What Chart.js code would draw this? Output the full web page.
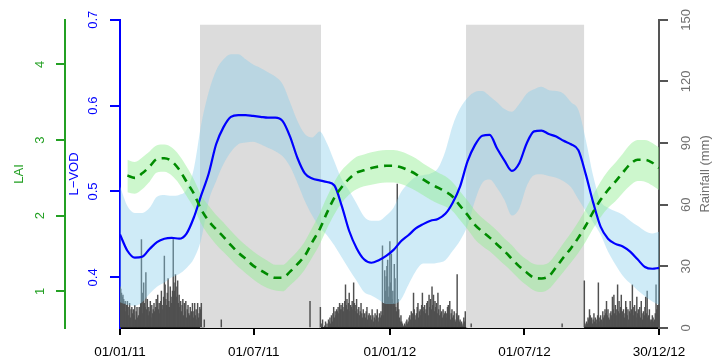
<!DOCTYPE html>
<html><head><meta charset="utf-8">
<script src="https://cdn.jsdelivr.net/npm/chart.js@4.4.1/dist/chart.umd.min.js"></script>
<style>html,body{margin:0;padding:0;background:#fff;}canvas{display:block;}</style>
</head><body>
<canvas id="c" width="718" height="362"></canvas>
<script>
// ---------------- DATA (days counted from 01/01/2011) ----------------
const xTickDays = [0, 181, 365, 547, 729];
const xTickLabels = ["01/01/11", "01/07/11", "01/01/12", "01/07/12", "30/12/12"];
const laiTicks = [1, 2, 3, 4];
const vodTicks = [0.4, 0.5, 0.6, 0.7];
const rainTicks = [0, 30, 60, 90, 120, 150];

// dry seasons (grey shading): [start day, end day]
const drySeasons = [[108, 272], [468, 628]];

// daily rainfall (mm) for the wet spells; first value is on the start day
const rainStart1 = 0;
const rain1 = [20,19,17,15,16,14,12,13,8,11, 13,10,6,12,5,9,10,7,9,6, 11,4,8,10,5,6,10,8,12,43,
  17,7,22,12,10,27,9,14,6,10, 8,13,5,11,7,9,12,8,10,14, 10,16,9,12,7,13,18,11,9,15,
  35,21,14,11,17,24,13,10,20,15, 12,18,43,22,18,26,15,20,23,12, 16,10,13,8,11,14,6,12,8,13,
  5,9,11,7,6,10,4,8,12,5, 8,12,6,9,4,12,5,7,10,9, 12,0,0,0,4];
const rainStart2 = 270;
const rain2 = [0,10,0,2,4,0,0,1,3,0, 2,0,4,3,5,2,6,3,7,10, 5,8,6,9,8,10,7,12,9,11,
  9,12,8,10,13,21,11,14,9,12, 17,8,11,10,13,9,22,12,8,11, 14,7,9,10,6,8,12,7,5,9,
  6,7,5,8,10,4,6,7,5,6, 4,9,6,3,5,7,4,6,9,5, 3,7,5,8,6,40,12,6,28,18,
  25,30,33,15,20,42,22,36,14,18, 12,31,24,10,8,70,14,9,5,3, 6,3,2,1,0,2,1,3,4,2,
  3,5,6,4,8,5,7,17,9,6, 4,7,10,12,5,8,9,6,11,17, 8,10,11,7,9,12,13,6,16,10,
  14,9,20,11,16,8,13,10,12,7, 17,9,6,11,7,8,5,9,6,7, 8,5,7,10,11,6,13,4,7,9,
  5,6,8,4,3,7,26,5,6,3, 4,2,3,1,2,5,3,8,0,0];
const rainStart3 = 628;
const rain3 = [23,2, 1,3,2,5,4,9,6,3,5,2, 4,7,3,5,4,2,6,22,5,3, 6,4,3,8,5,6,9,7,13,6,
  9,5,4,7,8,6,15,9,16,7, 11,6,9,21,8,13,7,10,16,6, 8,9,5,7,13,10,6,9,4,8,
  13,7,9,21,10,6,11,8,5,15, 7,9,6,10,5,13,7,4,8,6, 10,15,7,18,5,6,9,4,3,4,
  6,5,3,4,7,21,9,11,6,18];
// isolated dry-season showers
const rainEventDays = [137, 257, 475, 598];
const rainEventValues = [4, 13, 2, 2];

// L-VOD mean and band
const vodDays = [0,10,20,30,40,50,60,70,80,90,100,110,120,130,140,150,160,170,180,190,
  200,210,220,230,240,250,260,270,280,290,300,310,320,330,340,350,360,370,380,390,
  400,410,420,430,440,450,460,470,480,490,500,510,520,530,540,550,560,570,580,590,
  600,610,620,630,640,650,660,670,680,690,700,710,720,729];
const vodMean = [0.450,0.431,0.423,0.424,0.433,0.441,0.445,0.446,0.445,0.451,
  0.470,0.496,0.521,0.555,0.575,0.587,0.589,0.589,0.588,0.587,
  0.586,0.586,0.582,0.564,0.539,0.521,0.515,0.513,0.511,0.507,
  0.483,0.454,0.434,0.421,0.417,0.420,0.425,0.432,0.442,0.449,
  0.457,0.462,0.466,0.468,0.474,0.487,0.506,0.535,0.554,0.565,
  0.566,0.550,0.536,0.524,0.533,0.556,0.570,0.571,0.567,0.564,
  0.559,0.555,0.548,0.520,0.487,0.459,0.445,0.439,0.436,0.430,
  0.421,0.412,0.410,0.411];
const vodUpper = [0.506,0.483,0.475,0.475,0.481,0.494,0.496,0.495,0.496,0.502,
  0.527,0.579,0.616,0.641,0.654,0.660,0.660,0.654,0.648,0.644,
  0.639,0.634,0.625,0.604,0.582,0.567,0.563,0.570,0.556,0.535,
  0.514,0.501,0.486,0.471,0.466,0.466,0.472,0.481,0.499,0.510,
  0.517,0.519,0.521,0.527,0.547,0.577,0.597,0.609,0.616,0.617,
  0.611,0.604,0.596,0.593,0.602,0.614,0.619,0.622,0.618,0.617,
  0.614,0.604,0.595,0.560,0.518,0.489,0.481,0.477,0.473,0.466,
  0.460,0.454,0.451,0.453];
const vodLower = [0.371,0.368,0.367,0.371,0.381,0.389,0.394,0.400,0.404,0.411,
  0.422,0.445,0.489,0.512,0.532,0.546,0.555,0.557,0.558,0.555,
  0.551,0.547,0.541,0.529,0.510,0.489,0.472,0.458,0.449,0.437,
  0.423,0.409,0.396,0.383,0.379,0.374,0.369,0.369,0.374,0.391,
  0.407,0.416,0.416,0.417,0.420,0.431,0.443,0.460,0.489,0.510,
  0.514,0.504,0.490,0.472,0.480,0.506,0.519,0.520,0.518,0.516,
  0.512,0.505,0.491,0.477,0.464,0.450,0.430,0.415,0.402,0.393,
  0.385,0.378,0.372,0.368];

// LAI mean and band
const laiDays = [10,20,30,40,50,60,70,80,90,100,110,120,130,140,150,160,170,180,190,
  200,210,220,230,240,250,260,270,280,290,300,310,320,330,340,350,360,370,380,390,
  400,410,420,430,440,450,460,470,480,490,500,510,520,530,540,550,560,570,580,590,
  600,610,620,630,640,650,660,670,680,690,700,710,720,729];
const laiMean = [2.53,2.50,2.56,2.65,2.75,2.76,2.72,2.61,2.45,
  2.29,2.08,1.93,1.82,1.72,1.61,1.51,1.43,1.34,1.28,
  1.22,1.18,1.18,1.26,1.36,1.47,1.65,1.82,2.04,2.24,
  2.38,2.49,2.57,2.60,2.63,2.65,2.66,2.66,2.64,2.60,
  2.55,2.48,2.42,2.37,2.32,2.25,2.13,2.01,1.88,1.79,
  1.71,1.62,1.53,1.43,1.33,1.25,1.18,1.17,1.20,1.32,
  1.45,1.57,1.71,1.87,2.05,2.21,2.34,2.45,2.57,2.68,
  2.74,2.74,2.70,2.63];
const laiUpper = [2.74,2.71,2.77,2.85,2.93,2.94,2.90,2.80,2.65,
  2.48,2.27,2.13,2.01,1.91,1.80,1.70,1.61,1.53,1.46,
  1.40,1.35,1.35,1.43,1.53,1.66,1.84,2.03,2.25,2.45,
  2.60,2.70,2.78,2.81,2.84,2.86,2.87,2.87,2.85,2.81,
  2.76,2.69,2.63,2.57,2.52,2.44,2.32,2.20,2.07,1.97,
  1.89,1.80,1.70,1.61,1.50,1.42,1.36,1.35,1.38,1.50,
  1.64,1.77,1.92,2.09,2.28,2.45,2.59,2.70,2.82,2.94,
  3.00,3.00,2.96,2.90];
const laiLower = [2.31,2.29,2.35,2.45,2.57,2.58,2.53,2.42,2.26,
  2.10,1.89,1.74,1.62,1.52,1.42,1.32,1.24,1.16,1.09,
  1.04,1.01,1.00,1.08,1.17,1.29,1.45,1.62,1.83,2.02,
  2.17,2.28,2.35,2.39,2.41,2.43,2.44,2.44,2.42,2.38,
  2.33,2.27,2.21,2.16,2.12,2.06,1.94,1.82,1.69,1.60,
  1.53,1.44,1.35,1.26,1.16,1.08,1.01,0.99,1.03,1.14,
  1.26,1.38,1.51,1.66,1.83,1.98,2.10,2.19,2.30,2.40,
  2.46,2.45,2.40,2.34];

// ---------------- CHART ----------------
const FONT = "'Liberation Sans', Arial, Helvetica, sans-serif";
const GREEN_AX = '#23a023';
const GREEN_LINE = '#008b00';
const BLUE = '#0000ff';
const GREY_AX = '#555555';
const GREY_TXT = '#707070';
const DRY_TOP = 147.6;

const toXY = (days, vals) => days.map((d, i) => ({x: d, y: vals[i]}));
const rainPoints = [];
[[rainStart1, rain1], [rainStart2, rain2], [rainStart3, rain3]].forEach(([s, arr]) =>
  arr.forEach((v, i) => rainPoints.push({x: s + i, y: v})));
rainEventDays.forEach((d, i) => rainPoints.push({x: d, y: rainEventValues[i]}));
rainPoints.sort((a, b) => a.x - b.x);

const noLine = {borderColor: 'rgba(0,0,0,0)', borderWidth: 0, pointRadius: 0, pointHoverRadius: 0};
const datasets = [];
drySeasons.forEach(([s, e]) => datasets.push(Object.assign({
  type: 'line', yAxisID: 'yRain', data: [{x: s, y: DRY_TOP}, {x: e, y: DRY_TOP}],
  fill: 'origin', backgroundColor: 'rgb(220,220,220)', order: 10
}, noLine)));
datasets.push({type: 'bar', yAxisID: 'yRain', data: rainPoints, backgroundColor: 'rgb(80,80,80)',
  borderWidth: 0, barThickness: 0.8, order: 9});
datasets.push(Object.assign({type: 'line', yAxisID: 'yVod', data: toXY(vodDays, vodUpper),
  fill: '+1', backgroundColor: 'rgba(135,206,235,0.40)', cubicInterpolationMode: 'monotone', order: 8}, noLine));
datasets.push(Object.assign({type: 'line', yAxisID: 'yVod', data: toXY(vodDays, vodLower),
  fill: false, cubicInterpolationMode: 'monotone', order: 8}, noLine));
datasets.push(Object.assign({type: 'line', yAxisID: 'yLai', data: toXY(laiDays, laiUpper),
  fill: '+1', backgroundColor: 'rgba(144,238,144,0.45)', cubicInterpolationMode: 'monotone', order: 7}, noLine));
datasets.push(Object.assign({type: 'line', yAxisID: 'yLai', data: toXY(laiDays, laiLower),
  fill: false, cubicInterpolationMode: 'monotone', order: 7}, noLine));
datasets.push({type: 'line', yAxisID: 'yVod', data: toXY(vodDays, vodMean), borderColor: BLUE,
  borderWidth: 2.2, pointRadius: 0, fill: false, cubicInterpolationMode: 'monotone', order: 6});
datasets.push({type: 'line', yAxisID: 'yLai', data: toXY(laiDays, laiMean), borderColor: GREEN_LINE,
  borderWidth: 2.6, borderDash: [8, 6], pointRadius: 0, fill: false, cubicInterpolationMode: 'monotone', order: 5});

const f13 = {family: FONT, size: 13};
const setTicks = vals => s => { s.ticks = vals.map(v => ({value: v})); };

const rainTitle = {
  id: 'rainTitle',
  afterDraw(chart) {
    const s = chart.scales.yRain, ctx = chart.ctx;
    ctx.save();
    ctx.translate(s.right - 13, (s.top + s.bottom) / 2);
    ctx.rotate(-Math.PI / 2);
    ctx.font = '13px ' + FONT;
    ctx.fillStyle = GREY_TXT;
    ctx.textAlign = 'center';
    ctx.textBaseline = 'middle';
    ctx.fillText('Rainfall (mm)', 0, 0);
    ctx.restore();
  }
};

new Chart(document.getElementById('c'), {
  type: 'line',
  data: {datasets},
  plugins: [rainTitle],
  options: {
    responsive: false, animation: false, devicePixelRatio: 1,
    layout: {padding: {left: 0, right: 0, top: 17, bottom: 0}},
    plugins: {legend: {display: false}, tooltip: {enabled: false}},
    scales: {
      x: {
        type: 'linear', position: 'bottom', min: 0, max: 729, offset: false,
        afterBuildTicks: setTicks(xTickDays),
        afterFit: s => { s.height = 34; },
        ticks: {autoSkip: false, maxRotation: 0, minRotation: 0, color: '#000', padding: 9,
          font: {family: FONT, size: 13.5},
          callback: v => xTickLabels[xTickDays.indexOf(v)]},
        grid: {drawOnChartArea: false, drawTicks: true, tickLength: 7, color: '#000', lineWidth: 2, offset: false},
        border: {display: true, color: '#000', width: 2}
      },
      yRain: {
        type: 'linear', position: 'right', min: 0, max: 150,
        afterBuildTicks: setTicks(rainTicks),
        afterFit: s => { s.width = 59; },
        ticks: {color: GREY_TXT, font: f13, minRotation: 90, maxRotation: 90, crossAlign: 'center', padding: 8},
        grid: {drawOnChartArea: false, drawTicks: true, tickLength: 9, color: GREY_AX, lineWidth: 2},
        border: {display: true, color: GREY_AX, width: 2}
      },
      yVod: {
        type: 'linear', position: 'left', weight: 1, min: 0.341, max: 0.7,
        afterBuildTicks: setTicks(vodTicks),
        afterFit: s => { s.width = 55; },
        ticks: {color: BLUE, font: f13, minRotation: 90, maxRotation: 90, crossAlign: 'center', padding: 8,
          callback: v => v.toFixed(1)},
        grid: {drawOnChartArea: false, drawTicks: true, tickLength: 10, color: BLUE, lineWidth: 2},
        border: {display: true, color: BLUE, width: 2},
        title: {display: true, text: 'L\u2212VOD', color: BLUE, font: f13, padding: {top: 2, bottom: 0}}
      },
      yLai: {
        type: 'linear', position: 'left', weight: 2, min: 0.515, max: 4.59,
        afterBuildTicks: setTicks(laiTicks),
        afterFit: s => { s.width = 65; },
        ticks: {color: GREEN_AX, font: f13, minRotation: 90, maxRotation: 90, crossAlign: 'center', padding: 12,
          callback: v => String(v)},
        grid: {drawOnChartArea: false, drawTicks: true, tickLength: 9, color: GREEN_AX, lineWidth: 2},
        border: {display: true, color: GREEN_AX, width: 2},
        title: {display: true, text: 'LAI', color: GREEN_AX, font: f13, padding: {top: 12, bottom: 0}}
      }
    }
  }
});
</script>
</body></html>
